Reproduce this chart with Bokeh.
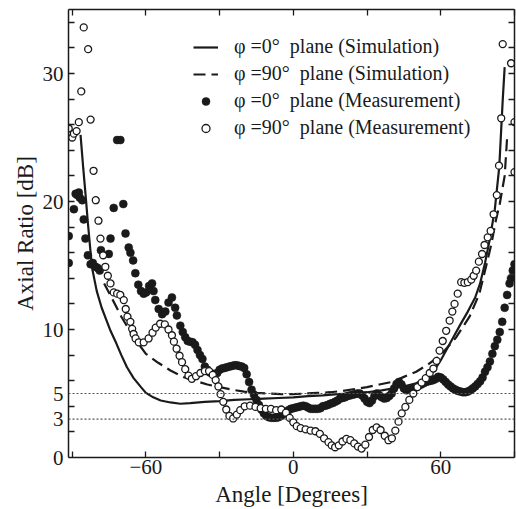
from bokeh.plotting import figure
from bokeh.models import Range1d, FixedTicker, LinearAxis, Span, Legend, LegendItem
from bokeh.embed import file_html
from bokeh.resources import INLINE

# ---------------- data ----------------
sim0_angle = [-86.6, -85.5, -84.5, -83.6, -82.6, -81.9, -80, -78, -76, -74.4, -72, -70, -67.7,
              -65, -62, -60, -57, -54, -50, -46, -42, -36, -30, -24, -18, -12, -6, 0, 6, 12,
              18, 24, 30, 36, 42, 46, 50, 54, 58, 60, 64, 68, 71, 74, 76, 78, 80, 82, 83.8,
              85.2, 86]
sim0_ar = [25.2, 22.6, 20.4, 18.3, 16.2, 14.8, 13.0, 11.7, 10.7, 9.9, 8.9, 8.0, 7.05,
           6.2, 5.5, 5.05, 4.7, 4.45, 4.3, 4.2, 4.25, 4.35, 4.4, 4.5, 4.55, 4.6, 4.65, 4.7,
           4.8, 4.85, 4.95, 5.0, 5.1, 5.25, 5.45, 5.6, 5.8, 6.2, 7.0, 7.6, 9.0, 10.4, 11.4,
           12.5, 13.6, 15.2, 17.1, 19.4, 22.7, 27.9, 30.5]

sim90_angle = [-77, -74, -70, -65, -60, -55, -50, -45, -40, -35, -30, -25, -20, -15, -10, -5,
               0, 5, 10, 15, 20, 25, 30, 35, 40, 45, 50, 55, 60, 66.3, 71.7, 75.7, 78.4,
               80.5, 82.5, 84, 86, 87]
sim90_ar = [13.6, 12.5, 11.0, 9.4, 8.1, 7.4, 6.8, 6.3, 6.0, 5.7, 5.5, 5.3, 5.15, 5.05, 5.0,
            4.95, 4.95, 5.0, 5.05, 5.1, 5.2, 5.35, 5.5, 5.7, 5.9, 6.3, 6.7, 7.3, 8.0, 9.4,
            11.0, 12.8, 14.9, 16.6, 18.6, 19.8, 22.0, 25.0]

meas0_angle = [-91.4, -91.4, -89.3, -88.6, -87.9, -87.3, -86.9, -85.9, -85.3, -84.6, -83.6,
               -82.5, -81.6, -80.5, -79.6, -78.8, -78.3, -75.1, -74.4, -73.1, -71.7, -70.4,
               -69.2, -68.3, -67.0, -66.3, -65.2, -64.3, -63.1, -62.0, -60.9, -59.9, -58.7,
               -57.5, -56.9, -56.2, -54.8, -53.4, -52.1, -50.8, -49.4, -48.1, -47.4,
               -46, -45, -44, -43, -42, -41, -40, -39, -38, -37, -36, -35, -34, -33, -32,
               -31, -30, -29, -28, -27, -26, -25, -24, -23, -22, -21, -20, -19, -18, -17,
               -16, -15, -14, -13, -12, -11, -10, -9, -8, -7, -6, -5, -4, -3, -2, -1, 0,
               1, 2, 3, 4, 5, 6, 7, 8, 9, 10, 11, 12, 13, 14, 15, 16, 17, 18, 19, 20, 21,
               22, 23, 24, 25, 26, 27, 28, 29, 30, 31, 32, 33, 34, 35, 36, 37, 38, 39, 40,
               41, 42, 43, 44, 45, 46, 47, 48, 49, 50, 51, 52, 53, 54, 55, 56, 57, 58, 59,
               60, 61, 62, 63, 64, 65, 66, 67, 68, 69, 70, 71, 72, 73, 74, 75, 76, 77, 78,
               79, 80, 81, 82, 83, 84, 85, 86, 87, 88, 88.6, 89.3, 90]
meas0_ar = [17.3, 15.2, 19.4, 20.6, 20.5, 20.7, 20.3, 20.1, 18.6, 17.1, 15.8,
            15.1, 15.2, 14.9, 14.8, 14.6, 16.2, 15.9, 17.1, 19.5, 24.8, 24.8,
            19.8, 17.5, 16.4, 16.0, 15.4, 14.4, 13.5, 13.0, 12.8, 12.9, 13.4,
            13.6, 13.0, 12.3, 11.6, 11.2, 11.4, 12.1, 12.5, 11.7, 11.1,
            10.3, 9.8, 9.4, 9.1, 9.05, 9.0, 8.8, 8.4, 8.0, 7.7, 7.1, 6.85, 6.65, 6.55, 6.5,
            6.6, 6.85, 6.95, 7.0, 7.05, 7.1, 7.15, 7.2, 7.2, 7.15, 7.1, 7.0, 6.5, 5.9, 5.3,
            4.9, 4.5, 4.1, 3.75, 3.45, 3.25, 3.15, 3.1, 3.1, 3.1, 3.15, 3.25, 3.4, 3.55, 3.7,
            3.8, 3.85, 3.9, 3.95, 4.0, 4.05, 4.0, 3.9, 3.8, 3.8, 3.8, 3.8, 3.85, 4.0, 4.05,
            4.1, 4.2, 4.25, 4.35, 4.45, 4.6, 4.65, 4.7, 4.8, 4.85, 4.9, 4.95, 5.0, 5.0, 4.85,
            4.6, 4.35, 4.25, 4.45, 4.8, 5.0, 4.85, 4.7, 4.6, 4.65, 4.8, 5.0, 5.4, 5.75, 5.9,
            5.7, 5.4, 5.25, 5.3, 5.4, 5.4, 5.5, 5.6, 5.7, 5.8, 5.9, 5.95, 6.0, 6.05, 6.15,
            6.3, 6.25, 6.1, 5.9, 5.7, 5.55, 5.4, 5.3, 5.2, 5.15, 5.1, 5.1, 5.15, 5.25, 5.4,
            5.55, 5.75, 5.95, 6.25, 6.7, 7.05, 7.5, 8.1, 8.7, 9.2, 9.8, 10.6, 11.7, 12.7,
            13.6, 14.0, 14.6, 15.1]

meas90_angle = [-91.4, -90.0, -89.3, -88.2, -87.3, -86.3, -85.3, -83.5, -82.5, -81.3, -80.4,
                -79.3, -78.5, -77.4, -76.5, -75.5, -74.4, -73.1, -71.7, -70.4, -69.0, -68.2,
                -67.5, -66.3, -65.6, -65.0, -64.2, -62.9, -60.9, -58.9, -57.3, -56.0, -54.2,
                -52.3, -50.8, -49.4, -48.6, -47.5, -46.3, -45.3, -44.0, -42.7, -41.3, -39.6,
                -37.8, -36.0, -34.3, -32.8, -31.6, -30.5, -29.6, -28.5, -27.3, -26.0, -24.5,
                -23.0, -21.6, -19.8, -17.6, -15.4, -13.3, -11.2, -9.1, -7.0, -4.9, -3.0, -1.5,
                0.0, 1.4, 3.0, 5.0, 7.0, 9.0, 10.8, 12.5, 14.3, 15.6, 17.0, 18.5, 20.0, 21.6,
                23.2, 24.8, 26.3, 27.8, 29.3, 30.8, 32.3, 33.9, 35.5, 37.2, 38.7, 40.1, 41.5,
                42.8, 44.1, 45.6, 47.2, 48.8, 50.5, 52.2, 53.9, 55.5, 57.0, 58.3, 59.5, 60.8,
                62.2, 63.6, 64.7, 65.6, 66.9, 68.3, 69.6, 71.0, 72.4, 73.4, 74.4, 75.5, 76.8,
                77.8, 79.1, 80.3, 81.5, 82.8, 83.7, 84.6, 85.2, 88.6, 90.0, 90.0]
meas90_ar = [25.7, 25.0, 25.3, 25.5, 26.2, 28.6, 33.6, 31.9, 26.4, 22.4, 20.1,
             18.5, 17.1, 15.8, 14.9, 14.2, 13.6, 12.9, 12.8, 12.7, 12.3, 11.6,
             11.0, 10.6, 10.05, 9.65, 9.3, 9.0, 9.0, 9.3, 9.75, 10.15, 10.45,
             10.4, 10.0, 9.55, 9.05, 8.5, 7.95, 7.45, 6.9, 6.4, 6.15, 6.35,
             6.6, 6.75, 6.75, 6.45, 6.05, 5.55, 4.95, 4.35, 3.75, 3.25, 3.05,
             3.35, 3.7, 4.0, 4.05, 3.95, 3.85, 3.8, 3.8, 3.7, 3.75, 3.5, 3.1,
             2.75, 2.45, 2.3, 2.2, 2.1, 2.05, 1.85, 1.5, 1.2, 0.95, 0.8, 0.95, 1.25, 1.45,
             1.35, 1.1, 0.85, 0.7, 1.0, 1.6, 2.15, 2.35, 2.15, 1.7, 1.35, 1.5, 2.1,
             2.8, 3.45, 3.95, 4.5, 5.0, 5.5, 5.85, 6.2, 6.6, 6.95, 7.55, 8.35, 9.1,
             9.9, 10.7, 11.4, 12.0, 12.8, 13.7, 13.65, 13.7, 13.9, 14.2, 14.6, 15.3, 15.9,
             16.6, 17.2, 17.7, 19.0, 20.5, 22.8, 26.5, 32.3, 30.8, 26.2, 22.3]

ref_levels = [3, 5]
x_major = [-60, 0, 60]
x_minor = [-90, -30, 30, 90]
x_frame_ticks = [-90, -60, -30, 0, 30, 60, 90]
y_major = [0, 3, 5, 10, 20, 30]
y_minor = [2, 4, 6, 8, 10, 12, 14, 16, 18, 20, 22, 24, 26, 28, 30, 32, 34]

labels = ["\u03c6 =0\u00b0\u00a0\u00a0plane (Simulation)",
          "\u03c6 =90\u00b0\u00a0\u00a0plane (Simulation)",
          "\u03c6 =0\u00b0\u00a0\u00a0plane (Measurement)",
          "\u03c6 =90\u00b0\u00a0\u00a0plane (Measurement)"]

FONT = "Liberation Serif"
INK = "#1a1a1a"

p = figure(width=516, height=509, output_backend="svg", toolbar_location=None,
           x_range=Range1d(-91.5, 90), y_range=Range1d(0, 35),
           min_border_left=68, min_border_right=2, min_border_top=9, min_border_bottom=52,
           background_fill_color="white", border_fill_color="white")
p.grid.visible = False
p.outline_line_color = None

for lv in ref_levels:
    p.add_layout(Span(location=lv, dimension="width", line_color="#555555",
                      line_dash="2 2", line_width=1.2))

r_sim0 = p.line(sim0_angle, sim0_ar, line_color=INK, line_width=2.2)
r_sim90 = p.line(sim90_angle, sim90_ar, line_color=INK, line_width=2.2, line_dash="12 6")
r_m0 = p.scatter(meas0_angle, meas0_ar, marker="circle", size=8, fill_color=INK,
                 line_color=INK, line_width=0.5)
r_m90 = p.scatter(meas90_angle, meas90_ar, marker="circle", size=7, fill_color="white",
                  line_color=INK, line_width=1.3)

def style_axis(ax, ticks, minor):
    ax.ticker = FixedTicker(ticks=ticks, minor_ticks=minor)
    ax.axis_line_color = INK
    ax.axis_line_width = 1.5
    ax.major_tick_line_color = INK
    ax.minor_tick_line_color = INK
    ax.major_tick_line_width = 1.3
    ax.minor_tick_line_width = 1.3
    ax.major_tick_out = 0
    ax.minor_tick_out = 0
    ax.major_label_text_font = FONT
    ax.major_label_text_color = INK
    ax.major_label_text_font_size = "21px"
    ax.axis_label_text_font = FONT
    ax.axis_label_text_font_size = "23px"
    ax.axis_label_text_font_style = "normal"
    ax.axis_label_text_color = INK

xa = p.xaxis[0]
style_axis(xa, x_major, x_minor)
xa.major_tick_in = 6
xa.minor_tick_in = 6
xa.axis_label = "Angle [Degrees]"
xa.major_label_standoff = 2
xa.axis_label_standoff = 5
xa.major_label_overrides = {-60: "\u221260"}

ya = p.yaxis[0]
style_axis(ya, y_major, y_minor)
ya.major_tick_in = 0
ya.minor_tick_in = 6
ya.axis_label = "Axial Ratio [dB]"
ya.major_label_standoff = 5
ya.axis_label_standoff = 2

# frame axes on top and right: tick marks only (no major ticks -> no labels)
top = LinearAxis()
style_axis(top, [], x_frame_ticks)
top.minor_tick_in = 6
top.major_label_standoff = 0
top.axis_label_standoff = 0
p.add_layout(top, "above")

right = LinearAxis()
style_axis(right, [], y_minor)
right.minor_tick_in = 6
right.major_label_standoff = 0
right.axis_label_standoff = 0
p.add_layout(right, "right")

legend = Legend(items=[LegendItem(label=labels[0], renderers=[r_sim0]),
                       LegendItem(label=labels[1], renderers=[r_sim90]),
                       LegendItem(label=labels[2], renderers=[r_m0]),
                       LegendItem(label=labels[3], renderers=[r_m90])],
                location=(125, 318), orientation="vertical",
                background_fill_alpha=0, border_line_color=None,
                padding=0, margin=0, spacing=4, glyph_width=25, glyph_height=20,
                label_height=20, label_standoff=16,
                label_text_font=FONT, label_text_font_size="20px", label_text_color=INK)
p.add_layout(legend)

open("out.html", "w").write(file_html(p, INLINE))
